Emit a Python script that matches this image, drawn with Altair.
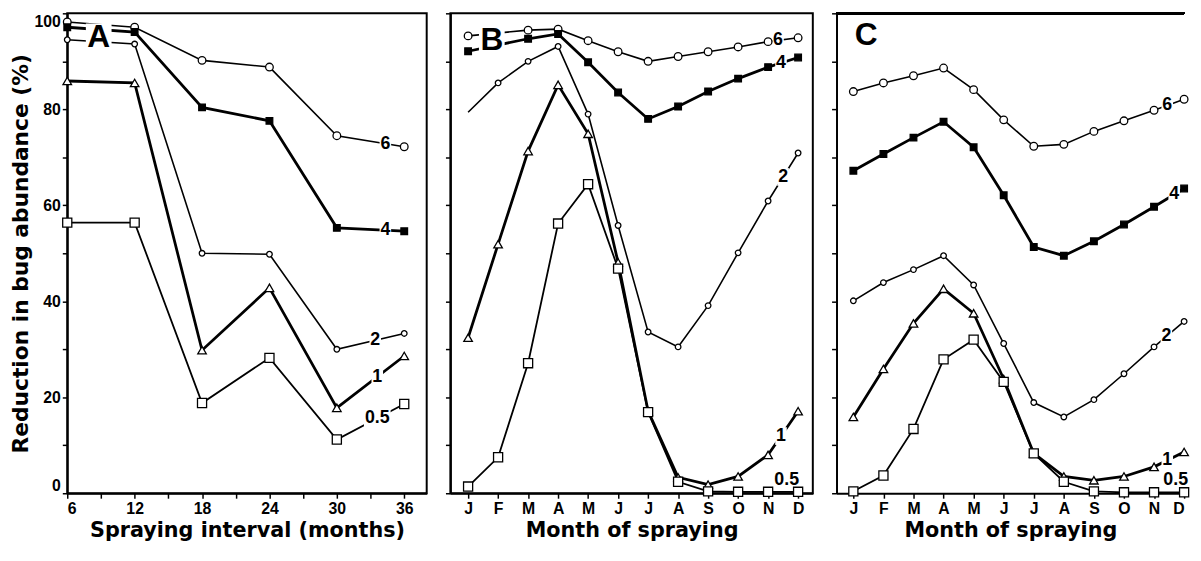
import altair as alt
import pandas as pd

# ---------------- data ----------------
intervals = [6, 12, 18, 24, 30, 36]
months = ["J", "F", "M", "A", "M", "J", "J", "A", "S", "O", "N", "D"]
series_names = ["6", "4", "2", "1", "0.5"]

a_6 = [98.2, 97.1, 90.2, 88.8, 74.5, 72.2]
a_4 = [97.1, 96.1, 80.4, 77.6, 55.3, 54.6]
a_2 = [94.5, 93.6, 50.0, 49.8, 30.0, 33.3]
a_1 = [85.9, 85.5, 29.8, 42.8, 17.8, 28.6]
a_05 = [56.4, 56.4, 18.8, 28.2, 11.2, 18.6]

b_6 = [95.3, None, 96.5, 96.7, 94.3, 92.0, 90.0, 91.0, 92.0, 93.0, 94.1, 94.9]
b_4 = [92.1, None, 94.7, 95.7, 89.8, 83.5, 78.0, 80.6, 83.7, 86.4, 88.8, 90.8]
b_2 = [79.4, 85.5, 90.0, 93.1, 79.0, 55.8, 33.6, 30.5, 39.1, 50.1, 60.9, 70.9]
b_1 = [32.4, 51.9, 71.3, 85.1, 74.9, 48.1, 17.1, 3.3, 1.8, 3.5, 8.0, 17.1]
b_05 = [1.4, 7.5, 27.1, 56.2, 64.4, 46.8, 16.9, 2.4, 0.4, 0.3, 0.3, 0.3]

c_6 = [83.7, 85.5, 87.0, 88.6, 84.1, 77.8, 72.3, 72.7, 75.4, 77.6, 79.8, 82.1]
c_4 = [67.2, 70.7, 74.1, 77.4, 72.1, 62.1, 51.3, 49.5, 52.5, 56.0, 59.7, 63.5]
c_2 = [40.1, 43.9, 46.6, 49.5, 43.4, 31.2, 18.9, 15.9, 19.5, 24.9, 30.5, 35.8]
c_1 = [15.9, 25.9, 35.4, 42.6, 37.5, 23.8, 8.3, 3.5, 2.7, 3.5, 5.5, 8.6]
c_05 = [0.4, 3.7, 13.4, 27.9, 32.0, 23.2, 8.3, 2.4, 0.4, 0.2, 0.2, 0.2]

# ---------------- styles ----------------
styles = {
    "6": dict(shape="circle", fill="white", size=60, lw=1.6),
    "4": dict(shape="square", fill="black", size=45, lw=2.8),
    "2": dict(shape="circle", fill="white", size=32, lw=1.6),
    "1": dict(shape="triangle-up", fill="white", size=75, lw=2.8),
    "0.5": dict(shape="square", fill="white", size=85, lw=1.8),
}
# label position: fraction along the last segment, vertical offset
label_pos = {
    "A": {"6": (0.72, 0), "4": (0.72, 0), "2": (0.57, 0), "1": (0.6, 0), "0.5": (0.6, 0)},
    "B": {"6": (0.33, 0), "4": (0.43, 0), "2": (0.5, 0), "1": (0.43, 0), "0.5": (0.62, 2.4)},
    "C": {"6": (0.44, 0), "4": (0.67, 0), "2": (0.41, 0), "1": (0.44, 0), "0.5": (0.72, 2.5)},
}
letter_pos = {"A": (8.8, 95.0, True), "B": (0.79, 94.5, True), "C": (0.43, 95.5, False)}
hidden_markers = {"B": [("2", 0)]}

BOX1 = "M-0.65,-1H0.65V1H-0.65Z"
BOX3 = "M-1.5,-1H1.5V1H-1.5Z"
BOXL = "M-0.93,-1H0.93V1H-0.93Z"

LABEL_FONT = "Liberation Sans"
PANEL_H = 486


def build(name, xs, values):
    rows = []
    for s, ys in zip(series_names, values):
        st = styles[s]
        for i, (x, y) in enumerate(zip(xs, ys)):
            if y is None:
                continue
            show = (s, i) not in hidden_markers.get(name, [])
            rows.append(dict(x=x, y=y, series=s, lw=st["lw"], shape=st["shape"],
                             fill=st["fill"], size=st["size"], show=show))
    df = pd.DataFrame(rows)
    labs = []
    for s, ys in zip(series_names, values):
        t, dy = label_pos[name][s]
        x0, x1 = xs[-2], xs[-1]
        y0, y1 = ys[-2], ys[-1]
        labs.append(dict(x=x0 + t * (x1 - x0), y=y0 + t * (y1 - y0) + dy, text=s,
                         box=(BOX3 if len(s) > 1 else BOX1), hasbox=(dy == 0)))
    lx, ly, lbox = letter_pos[name]
    lab = pd.DataFrame(labs)
    let = pd.DataFrame([dict(x=lx, y=ly, text=name, box=BOXL, hasbox=lbox)])
    return df, lab, let


def panel(name, xs, values, xdomain, width, xaxis, yaxis, ytitle, open_right=False):
    df, lab, let = build(name, xs, values)
    X = alt.X("x:Q", scale=alt.Scale(domain=xdomain, nice=False, zero=False), axis=xaxis)
    Y = alt.Y("y:Q", scale=alt.Scale(domain=[0, 100], nice=False), axis=yaxis, title=ytitle)
    lines = alt.Chart(df).mark_line(color="black").encode(
        x=X, y=Y, detail="series:N",
        strokeWidth=alt.StrokeWidth("lw:Q", scale=None))
    layers = []
    if open_right:
        # top frame line only (the right edge is cut off in the original)
        layers.append(alt.Chart(df).mark_rule(color="black", strokeWidth=2).encode(
            y=alt.datum(100)))
    layers.append(lines)
    let_box = let[let["hasbox"]]
    if len(let_box):
        layers.append(alt.Chart(let_box).mark_point(
            filled=True, color="white", opacity=1, strokeWidth=0, size=784).encode(
            x=X, y=Y, shape=alt.Shape("box:N", scale=None)))
    layers.append(alt.Chart(lab[lab["hasbox"]]).mark_point(
        filled=True, color="white", opacity=1, strokeWidth=0, size=324).encode(
        x=X, y=Y, shape=alt.Shape("box:N", scale=None)))
    layers.append(alt.Chart(df[df["show"]]).mark_point(
        filled=True, stroke="black", strokeWidth=1.3, opacity=1, fillOpacity=1).encode(
        x=X, y=Y,
        fill=alt.Fill("fill:N", scale=None),
        shape=alt.Shape("shape:N", scale=None),
        size=alt.Size("size:Q", scale=None)))
    layers.append(alt.Chart(lab).mark_text(
        font=LABEL_FONT, fontSize=18, fontWeight="bold", color="black",
        align="center", baseline="middle").encode(x=X, y=Y, text="text:N"))
    layers.append(alt.Chart(let).mark_text(
        font=LABEL_FONT, fontSize=32, fontWeight="bold", color="black",
        align="center", baseline="middle").encode(x=X, y=Y, text="text:N"))
    ch = alt.layer(*layers).properties(width=width, height=PANEL_H)
    if open_right:
        ch = ch.properties(view=alt.ViewBackground(stroke="transparent"))
    return ch


month_idx = list(range(12))
months_js = "[" + ",".join("'%s'" % m for m in months) + "]"

axA_x = alt.Axis(values=list(range(6, 37, 3)),
                 labelExpr="datum.value % 6 == 0 ? datum.label : ''",
                 title="Spraying interval (months)")
axA_y = alt.Axis(values=list(range(0, 101, 10)),
                 labelExpr="datum.value % 20 == 0 ? datum.label : ''",
                 labelFlush=True, titleFontSize=22, titlePadding=2)
ax_m = alt.Axis(values=month_idx, labelExpr=months_js + "[datum.value]",
                title="Month of spraying")
ax_y_nolab = alt.Axis(values=list(range(0, 101, 10)), labels=False)

pA = panel("A", intervals, [a_6, a_4, a_2, a_1, a_05], [6, 38], 364, axA_x, axA_y,
           "Reduction in bug abundance (%)")
pB = panel("B", month_idx, [b_6, b_4, b_2, b_1, b_05], [-0.59, 11.49], 367, ax_m, ax_y_nolab, None)
pC = panel("C", month_idx, [c_6, c_4, c_2, c_1, c_05], [-0.56, 11.0], 352, ax_m, ax_y_nolab, None,
           open_right=True)

chart = alt.hconcat(pA, pB, pC, spacing=16).properties(
    padding={"left": 0, "top": 0, "right": 0, "bottom": 0},
    background="white"
).configure_view(
    stroke="black", strokeWidth=2
).configure_axis(
    grid=False, domainColor="black", domainWidth=2, tickColor="black", tickWidth=1.5,
    tickSize=5, labelFont=LABEL_FONT, labelFontWeight="bold", labelFontSize=16,
    labelColor="black", labelPadding=2, titleFont="DejaVu Sans", titleFontWeight="bold",
    titleFontSize=21, titleColor="black", titlePadding=4
)

chart.save("out.html", embed_options={"renderer": "svg", "actions": False})
